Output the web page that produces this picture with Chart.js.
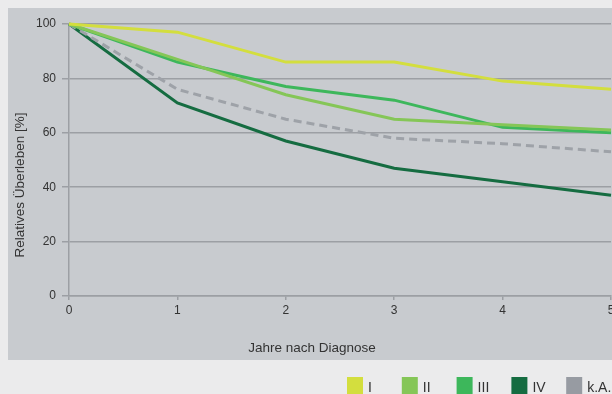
<!DOCTYPE html>
<html lang="de">
<head>
<meta charset="utf-8">
<title>Relatives Überleben nach Stadium</title>
<script src="https://cdn.jsdelivr.net/npm/chart.js@4.4.1/dist/chart.umd.min.js"></script>
<style>
  html, body { margin: 0; padding: 0; background: #ebebec; overflow: hidden; width: 612px; height: 394px; }
  #wrap { width: 640px; height: 394px; }
</style>
</head>
<body>
<div id="wrap"><canvas id="c" width="640" height="394"></canvas></div>
<script>
// Jahre nach Diagnose
const years = [0, 1, 2, 3, 4, 5];
// Relatives Überleben [%] je Stadium
const stageI   = [100, 97, 86, 86, 79, 76];
const stageII  = [100, 87, 74, 65, 63, 61];
const stageIII = [100, 86, 77, 72, 62, 60];
const stageIV  = [100, 71, 57, 47, 42, 37];
const stageKA  = [100, 76, 65, 58, 56, 53];
const seriesLabels = ['I', 'II', 'III', 'IV', 'k.A.'];
const yTicks = [0, 20, 40, 60, 80, 100];
const xTitle = 'Jahre nach Diagnose';
const yTitle = 'Relatives Überleben [%]';

const colors = ['#d3de3e', '#85c657', '#3db75b', '#156c41', '#979ba2'];
const lineColors = ['#d3de3e', '#85c657', '#3db75b', '#156c41', '#9ea2a8'];
const FONT = '"Liberation Sans", Arial, Helvetica, sans-serif';

const toPoints = arr => arr.map((v, i) => ({ x: years[i], y: v }));
const allSeries = [stageI, stageII, stageIII, stageKA, stageIV];
const order = [0, 1, 2, 4, 3];

const datasets = order.map((idx, k) => ({
  label: seriesLabels[idx],
  data: toPoints(allSeries[k]),
  borderColor: lineColors[idx],
  backgroundColor: colors[idx],
  borderWidth: 3,
  borderDash: idx === 4 ? [8, 5] : [],
  pointRadius: 0,
  tension: 0,
  fill: false,
  clip: false
}));

// Grey panel, axis titles and legend row
const decor = {
  id: 'decor',
  beforeDraw(chart) {
    const ctx = chart.ctx;
    ctx.save();
    ctx.fillStyle = '#ebebec';
    ctx.fillRect(0, 0, chart.width, chart.height);
    ctx.fillStyle = '#c8cbcf';
    ctx.fillRect(8, 8, chart.width, 352);
    ctx.restore();
  },
  afterDraw(chart) {
    const ctx = chart.ctx;
    ctx.save();
    ctx.fillStyle = '#333333';
    ctx.font = '13.5px ' + FONT;
    ctx.textAlign = 'center';
    ctx.textBaseline = 'middle';
    ctx.fillText(xTitle, 312, 348);
    ctx.translate(20, 185);
    ctx.rotate(-Math.PI / 2);
    ctx.fillText(yTitle, 0, 0);
    ctx.restore();

    // legend
    ctx.save();
    ctx.font = '14px ' + FONT;
    ctx.textAlign = 'left';
    ctx.textBaseline = 'alphabetic';
    seriesLabels.forEach((lab, i) => {
      const x = 347 + i * 54.8;
      ctx.fillStyle = colors[i];
      ctx.fillRect(x, 377, 16, 17);
      ctx.fillStyle = '#333333';
      ctx.fillText(lab, x + 21, 392);
    });
    ctx.restore();
  }
};

new Chart(document.getElementById('c'), {
  type: 'line',
  data: { datasets },
  options: {
    responsive: false,
    animation: false,
    layout: { padding: { left: 0, right: 29, top: 24, bottom: 68 } },
    plugins: { legend: { display: false }, tooltip: { enabled: false } },
    scales: {
      x: {
        type: 'linear',
        min: 0,
        max: 5,
        afterFit: s => { s.height = 30; },
        afterBuildTicks: s => { s.ticks = years.map(v => ({ value: v })); },
        ticks: { color: '#333333', font: { family: FONT, size: 12 }, padding: 3 },
        grid: { drawOnChartArea: false, drawTicks: true, tickLength: 4, color: '#9c9fa4', lineWidth: 1.5 },
        border: { display: true, color: '#9c9fa4', width: 1.5 }
      },
      y: {
        min: 0,
        max: 100,
        afterFit: s => { s.width = 69; },
        afterBuildTicks: s => { s.ticks = yTicks.map(v => ({ value: v })); },
        ticks: { color: '#333333', font: { family: FONT, size: 12 }, padding: 6 },
        grid: { drawOnChartArea: true, drawTicks: true, tickLength: 7, color: '#9c9fa4', lineWidth: 1.5 },
        border: { display: true, color: '#9c9fa4', width: 1.5 }
      }
    }
  },
  plugins: [decor]
});
</script>
</body>
</html>
